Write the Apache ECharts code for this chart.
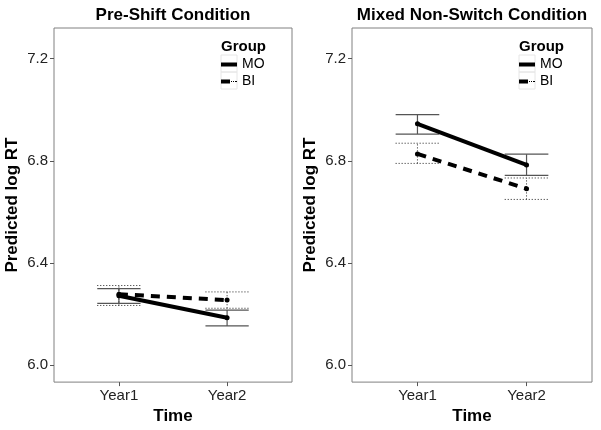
<!DOCTYPE html>
<html>
<head>
<meta charset="utf-8">
<script src="https://cdn.jsdelivr.net/npm/echarts@6/dist/echarts.min.js"></script>
<style>
  html, body { margin: 0; padding: 0; background: #fff; }
  #chart { width: 601px; height: 430px; }
</style>
</head>
<body>
<div id="chart"></div>
<script>
// categories on the x axis (positions 1 and 2)
var timeLabels = ['Year1', 'Year2'];
var yTicks = [6.0, 6.4, 6.8, 7.2];

// Pre-Shift condition: predicted values and error bar limits
var preMO = [6.272, 6.186];
var preMOlo = [6.242, 6.154];
var preMOhi = [6.300, 6.216];
var preBI = [6.278, 6.255];
var preBIlo = [6.234, 6.223];
var preBIhi = [6.312, 6.287];

// Mixed Non-Switch condition
var mixMO = [6.945, 6.784];
var mixMOlo = [6.905, 6.743];
var mixMOhi = [6.981, 6.826];
var mixBI = [6.827, 6.691];
var mixBIlo = [6.790, 6.649];
var mixBIhi = [6.869, 6.733];

var font = '"Liberation Sans", Arial, sans-serif';
var chart = echarts.init(document.getElementById('chart'));

function pts(vals) {
  return vals.map(function (v, i) { return [i + 1, v]; });
}
function bars(lo, hi) {
  return lo.map(function (v, i) { return [i + 1, v, hi[i]]; });
}

// error bar drawn with the axes' own scale
function errRender(style) {
  return function (params, api) {
    var x = api.value(0);
    var lo = api.coord([x, api.value(1)]);
    var hi = api.coord([x, api.value(2)]);
    var half = api.size([0.2, 0])[0];
    return {
      type: 'group',
      children: [
        { type: 'line', shape: { x1: lo[0], y1: lo[1], x2: hi[0], y2: hi[1] }, style: style },
        { type: 'line', shape: { x1: hi[0] - half, y1: hi[1], x2: hi[0] + half, y2: hi[1] }, style: style },
        { type: 'line', shape: { x1: lo[0] - half, y1: lo[1], x2: lo[0] + half, y2: lo[1] }, style: style }
      ]
    };
  };
}
var moErrStyle = { stroke: '#555', lineWidth: 1.2, fill: null };
var biErrStyle = { stroke: '#222', lineWidth: 1, lineDash: [1, 2], fill: null };

function xAxis(idx) {
  return {
    type: 'value', gridIndex: idx, min: 0.4, max: 2.6,
    name: 'Time', nameLocation: 'middle', nameGap: 22,
    nameTextStyle: { fontFamily: font, fontSize: 17, fontWeight: 'bold', color: '#000' },
    axisLine: { show: false },
    splitLine: { show: false },
    axisTick: { show: true, length: 4, customValues: [1, 2], lineStyle: { color: '#555' } },
    axisLabel: {
      customValues: [1, 2], margin: 6, fontFamily: font, fontSize: 15, color: '#222',
      formatter: function (v) { return timeLabels[Math.round(v) - 1]; }
    }
  };
}
function yAxis(idx) {
  return {
    type: 'value', gridIndex: idx, min: 5.934, max: 7.32,
    name: 'Predicted log RT', nameLocation: 'middle', nameGap: 33,
    nameTextStyle: { fontFamily: font, fontSize: 17, fontWeight: 'bold', color: '#000' },
    axisLine: { show: false },
    splitLine: { show: false },
    axisTick: { show: true, length: 4, customValues: yTicks, lineStyle: { color: '#555' } },
    axisLabel: {
      customValues: yTicks, margin: 6, fontFamily: font, fontSize: 15, color: '#222',
      formatter: function (v) { return v.toFixed(1); }
    }
  };
}

function lineSeries(name, idx, data, dashed) {
  return {
    name: name, type: 'line', xAxisIndex: idx, yAxisIndex: idx,
    data: pts(data), symbol: 'circle', symbolSize: 5,
    itemStyle: { color: '#000' },
    lineStyle: { color: '#000', width: 4, type: dashed ? [9, 7] : 'solid' },
    z: 5, animation: false
  };
}
function errSeries(idx, lo, hi, style) {
  return {
    type: 'custom', xAxisIndex: idx, yAxisIndex: idx,
    data: bars(lo, hi), renderItem: errRender(style), z: 3, silent: true, animation: false
  };
}

function legendAt(left) {
  return {
    left: left, top: 56, orient: 'vertical', padding: 0,
    itemWidth: 16, itemHeight: 4, itemGap: 0, itemTextGap: 5,
    selectedMode: false,
    textStyle: { fontFamily: font, fontSize: 14, color: '#000', lineHeight: 17 },
    itemStyle: { color: '#000', borderWidth: 0 },
    data: [
      { name: 'MO', icon: 'rect' },
      { name: 'BI', icon: 'path://M0,0H9V4H0Z M10,1.5H11V2.5H10Z M12,1.5H13V2.5H12Z M14,1.5H16V2.5H14Z' }
    ]
  };
}

function keyBoxes(x) {
  return [
    { type: 'rect', shape: { x: x, y: 55, width: 16, height: 17 }, style: { fill: null, stroke: '#e6e6e6', lineWidth: 1 } },
    { type: 'rect', shape: { x: x, y: 72, width: 16, height: 17 }, style: { fill: null, stroke: '#e6e6e6', lineWidth: 1 } }
  ];
}

chart.setOption({
  backgroundColor: '#fff',
  animation: false,
  grid: [
    { left: 54, top: 28, width: 238, height: 357, show: true, borderColor: '#808080', borderWidth: 1, backgroundColor: '#fff' },
    { left: 352, top: 28, width: 240, height: 357, show: true, borderColor: '#808080', borderWidth: 1, backgroundColor: '#fff' }
  ],
  xAxis: [xAxis(0), xAxis(1)],
  yAxis: [yAxis(0), yAxis(1)],
  legend: [legendAt(221), legendAt(519)],
  graphic: [
    { type: 'text', x: 173, y: 15, style: { text: 'Pre-Shift Condition', font: 'bold 17px ' + font, fill: '#000', align: 'center', verticalAlign: 'middle' } },
    { type: 'text', x: 472, y: 15, style: { text: 'Mixed Non-Switch Condition', font: 'bold 17px ' + font, fill: '#000', align: 'center', verticalAlign: 'middle' } },
    { type: 'text', x: 221, y: 47, style: { text: 'Group', font: 'bold 15px ' + font, fill: '#000', align: 'left', verticalAlign: 'middle' } },
    { type: 'text', x: 519, y: 47, style: { text: 'Group', font: 'bold 15px ' + font, fill: '#000', align: 'left', verticalAlign: 'middle' } }
  ].concat(keyBoxes(221), keyBoxes(519)),
  series: [
    errSeries(0, preMOlo, preMOhi, moErrStyle),
    errSeries(0, preBIlo, preBIhi, biErrStyle),
    lineSeries('MO', 0, preMO, false),
    lineSeries('BI', 0, preBI, true),
    errSeries(1, mixMOlo, mixMOhi, moErrStyle),
    errSeries(1, mixBIlo, mixBIhi, biErrStyle),
    lineSeries('MO', 1, mixMO, false),
    lineSeries('BI', 1, mixBI, true)
  ]
});
</script>
</body>
</html>
